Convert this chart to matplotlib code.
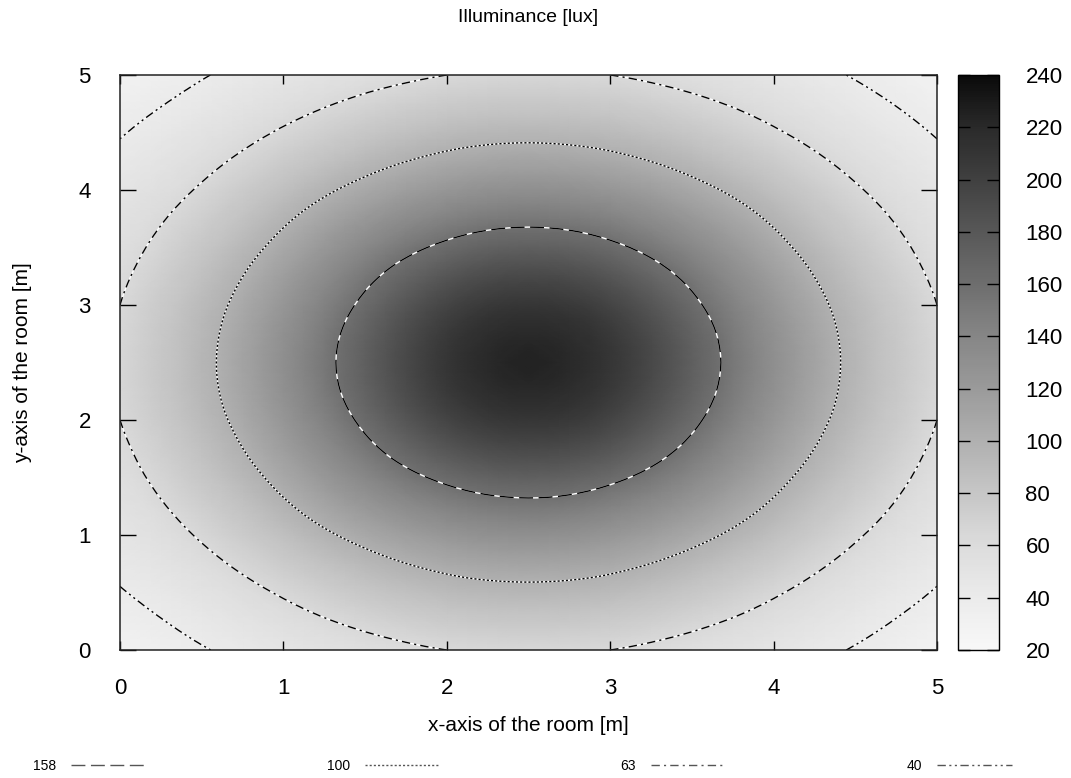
import numpy as np
import matplotlib
matplotlib.use("Agg")
import matplotlib.pyplot as plt
import matplotlib.tri as mtri
from matplotlib.colors import LinearSegmentedColormap
from matplotlib.lines import Line2D

plt.rcParams['font.family'] = ['Liberation Sans', 'DejaVu Sans']

# grid of the room (m), 0.5 m spacing
x_pos = [0.0, 0.5, 1.0, 1.5, 2.0, 2.5, 3.0, 3.5, 4.0, 4.5, 5.0]
y_pos = [0.0, 0.5, 1.0, 1.5, 2.0, 2.5, 3.0, 3.5, 4.0, 4.5, 5.0]

# illuminance [lux], rows = y, cols = x
lux = [
    [30, 39, 48, 56, 63, 65, 63, 56, 48, 39, 30],
    [39, 51, 65, 79, 90, 94, 90, 79, 65, 51, 39],
    [48, 65, 86, 107, 124, 131, 124, 107, 86, 65, 48],
    [56, 79, 107, 138, 163, 173, 163, 138, 107, 79, 56],
    [63, 90, 124, 163, 196, 209, 196, 163, 124, 90, 63],
    [65, 94, 131, 173, 209, 224, 209, 173, 131, 94, 65],
    [63, 90, 124, 163, 196, 209, 196, 163, 124, 90, 63],
    [56, 79, 107, 138, 163, 173, 163, 138, 107, 79, 56],
    [48, 65, 86, 107, 124, 131, 124, 107, 86, 65, 48],
    [39, 51, 65, 79, 90, 94, 90, 79, 65, 51, 39],
    [30, 39, 48, 56, 63, 65, 63, 56, 48, 39, 30],
]

contour_levels = [158, 100, 63, 40]
contour_labels = ['158', '100', '63', '40']
contour_dashes = [(0, (10, 4)), (0, (1.5, 1.5)), (0, (6, 3, 1.5, 3)), (0, (6, 2.5, 1.5, 2.5, 1.5, 2.5))]

cb_ticks = [20, 40, 60, 80, 100, 120, 140, 160, 180, 200, 220, 240]
cb_grays = ['#f8f8f8', '#ebebeb', '#dcdcdc', '#c6c6c6', '#b0b0b0', '#9a9a9a',
            '#868686', '#6e6e6e', '#585858', '#404040', '#2a2a2a', '#0a0a0a']
cmap = LinearSegmentedColormap.from_list('gray_neg', cb_grays)

fig = plt.figure(figsize=(10.71, 7.78), dpi=100)
ax = fig.add_axes([120 / 1071, 128 / 778, 817 / 1071, 575 / 778])
cax = fig.add_axes([958 / 1071, 128 / 778, 41 / 1071, 575 / 778])

X, Y = np.meshgrid(x_pos, y_pos)
Z = np.array(lux, dtype=float)
tri = mtri.Triangulation(X.ravel(), Y.ravel())
interp = mtri.CubicTriInterpolator(tri, Z.ravel())
refiner = mtri.UniformTriRefiner(tri)
tri_f, z_f = refiner.refine_field(Z.ravel(), triinterpolator=interp, subdiv=3)

mesh = ax.tripcolor(tri_f, z_f, cmap=cmap, shading='gouraud', vmin=20, vmax=240)

for lev, ls in zip(contour_levels, contour_dashes):
    ax.tricontour(tri_f, z_f, levels=[lev], colors='white', linewidths=1.0, linestyles='solid')
    cs = ax.tricontour(tri_f, z_f, levels=[lev], colors='black', linewidths=1.0)
    cs.set_linestyle(ls)

ax.set_xlim(0, 5)
ax.set_ylim(0, 5)
ax.set_xticks([0, 1, 2, 3, 4, 5])
ax.set_yticks([0, 1, 2, 3, 4, 5])
ax.tick_params(axis='x', direction='in', length=6.5, width=1, top=True, pad=20, labelsize=16)
ax.tick_params(axis='y', direction='in', length=11.5, width=1, right=True, pad=21, labelsize=16)
for sp in ax.spines.values():
    sp.set_linewidth(1.1)
    sp.set_color('#222222')

ax.set_xlabel('x-axis of the room [m]', fontsize=15)
ax.set_ylabel('y-axis of the room [m]', fontsize=15)
ax.xaxis.set_label_coords(0.5, -0.115)
ax.yaxis.set_label_coords(-0.108, 0.5)

fig.text(528 / 1071, 1 - 18 / 778, 'Illuminance [lux]', ha='center', va='center', fontsize=14)

cb = fig.colorbar(mesh, cax=cax, ticks=cb_ticks)
cb.outline.set_linewidth(1.0)
cb.minorticks_off()
cax.tick_params(direction='in', length=8.6, width=1, left=True, right=True,
                labelleft=False, labelright=True, pad=19, labelsize=16)

handles = [Line2D([], [], color='#555555', lw=1.0, linestyle=ls) for ls in contour_dashes]
fig.legend(handles, contour_labels, loc='center left', bbox_to_anchor=(33 / 1071, 12 / 778),
           ncol=4, frameon=False, markerfirst=False, fontsize=10, borderpad=0,
           handlelength=5.4, handletextpad=1.08, columnspacing=13.0, borderaxespad=0)

fig.savefig('out.png', dpi=100)
